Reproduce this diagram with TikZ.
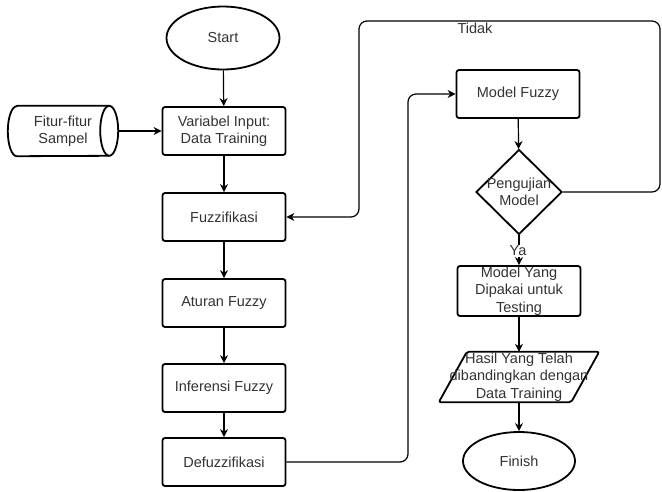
\documentclass[tikz,border=0pt]{standalone}
\usepackage{fontspec}
\setmainfont{Liberation Sans}
\usetikzlibrary{shapes.geometric,arrows.meta}
\definecolor{txt}{HTML}{333333}
\begin{document}
\begin{tikzpicture}[x=1pt,y=-1pt,
  lbl/.style={text=txt, font=\fontsize{14.5}{17.5}\selectfont, align=center},
  base/.style={draw=black, line width=1.8pt, lbl, inner sep=0pt},
  outline/.style={draw=black, line width=1.8pt, line join=round},
  procbox/.style={base, rectangle, rounded corners=2.5pt, minimum width=123pt, minimum height=48pt},
  term/.style={base, ellipse},
  link/.style={draw=black, line width=1.2pt, -{Stealth[length=8pt,width=8pt]}, rounded corners=8pt},
  edgetext/.style={lbl, fill=white, inner sep=1pt}
]
\useasboundingbox (0,0) rectangle (662,491);
\fill[white] (0,0) rectangle (662,491);

% left column
\node[term, minimum width=113pt, minimum height=63pt] (start) at (223,38) {Start};
\node[procbox] (input) at (224,131) {Variabel Input:\\Data Training};
\node[procbox] (fuzz) at (224,217) {Fuzzifikasi};
\node[procbox] (rules) at (224,303) {Aturan Fuzzy};
\node[procbox] (infer) at (224,388) {Inferensi Fuzzy};
\node[procbox] (defuzz) at (224,462) {Defuzzifikasi};

% stored data: horizontal cylinder
\node[lbl, minimum width=110pt, minimum height=50pt, inner sep=0pt] (fitur) at (63,131) {Fitur-fitur\\Sampel};
\draw[outline]
  ([xshift=9pt]fitur.north west) -- ([xshift=-9pt]fitur.north east)
  arc[start angle=90, end angle=-90, x radius=9pt, y radius=25pt]
  -- ([xshift=9pt]fitur.south west)
  arc[start angle=270, end angle=90, x radius=9pt, y radius=25pt] -- cycle;
\draw[outline] ([xshift=-9pt]fitur.north east)
  arc[start angle=90, end angle=270, x radius=9pt, y radius=25pt];

% right column
\node[procbox] (model) at (518,94) {Model Fuzzy};
\node[base, diamond, minimum width=86pt, minimum height=85pt,
      label={[lbl]center:Pengujian\\Model}] (test) at (519,192) {};
\node[procbox, minimum height=50pt,
      label={[lbl]center:Model Yang\\Dipakai untuk\\Testing}] (used) at (519,291) {};

% data output: parallelogram
\node[lbl, minimum width=160pt, minimum height=50pt, inner sep=0pt] (result) at (519,377) {};
\draw[outline, rounded corners=2pt]
  ([xshift=28pt]result.north west) -- (result.north east)
  -- ([xshift=-28pt]result.south east) -- (result.south west) -- cycle;
\node[lbl] (resulttext) at (result.center) {Hasil Yang Telah\\dibandingkan dengan\\Data Training};

\node[term, minimum width=112pt, minimum height=58pt] (finish) at (519,461) {Finish};

% connectors
\draw[link] (start) -- (input);
\draw[link] (fitur.east) -- (input.west);
\draw[link] (input) -- (fuzz);
\draw[link] (fuzz) -- (rules);
\draw[link] (rules) -- (infer);
\draw[link] (infer) -- (defuzz);
\draw[link] (defuzz.east) -- (408,462) -- (408,94) -- (model.west);
\draw[link] (model) -- (test);
\draw[link] (test.east) -- (660,192) -- (660,21) -- (359,21) -- (359,217) -- (fuzz.east);
\node[edgetext] (tidak) at (475,28) {Tidak};
\draw[link] (test.south) -- (used.north);
\node[edgetext] (ya) at (518,251) {Ya};
\draw[link] (used.south) -- (result.north);
\draw[link] (result.south) -- (finish);
\end{tikzpicture}
\end{document}
